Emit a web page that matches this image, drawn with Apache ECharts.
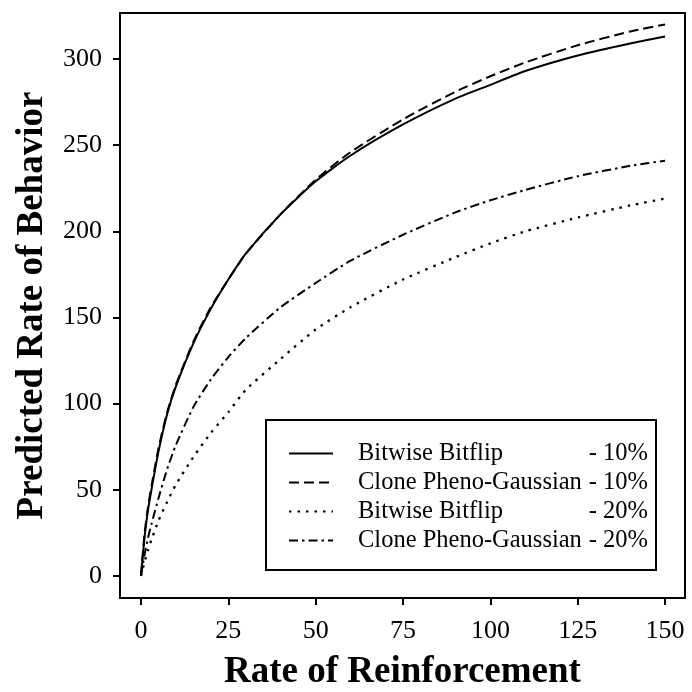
<!DOCTYPE html>
<html>
<head>
<meta charset="utf-8">
<script src="https://cdn.jsdelivr.net/npm/echarts@6/dist/echarts.min.js"></script>
<style>html,body{margin:0;padding:0;background:#fff}#c{width:692px;height:692px}</style>
</head>
<body>
<div id="c"></div>
<script>
var xValues = [0, 1, 2, 3, 5, 7.5, 10, 15, 20, 25, 30, 40, 50, 60, 75, 90, 100, 110, 125, 140, 150];
var bitwise10 = [0, 22, 38, 50, 72, 94, 110, 135, 155, 172, 187, 210, 229, 244, 262, 277, 285, 293, 302, 309, 313];
var clone10 = [0, 24, 40, 52, 74, 95, 111, 136, 156, 172, 187, 210, 230, 246, 265, 281, 290, 298, 308, 316, 320];
var bitwise20 = [0, 8, 15, 21, 32, 43, 53, 69, 83, 95, 108, 126, 143, 156, 172, 185, 193, 200, 208, 215, 219];
var clone20 = [0, 12, 22, 30, 45, 62, 76, 98, 114, 127, 138, 156, 170, 183, 198, 211, 218, 224, 232, 238, 241];
var xTicks = [0, 25, 50, 75, 100, 125, 150];
var yTicks = [0, 50, 100, 150, 200, 250, 300];
var seriesNames = ['Bitwise Bitflip', 'Clone Pheno-Gaussian', 'Bitwise Bitflip', 'Clone Pheno-Gaussian'];
var seriesRates = ['- 10%', '- 10%', '- 20%', '- 20%'];
var seriesIds = ['b10', 'c10', 'b20', 'c20'];

function pairs(ys) { return xValues.map(function (x, i) { return [x, ys[i]]; }); }
var font = 'Liberation Serif';
var dashes = ['solid', [10, 5], [2.5, 6], [9, 4, 2.5, 4]];
var widths = [2, 2, 2.3, 2];
var datas = [bitwise10, clone10, bitwise20, clone20];
var labelMap = {};
seriesIds.forEach(function (id, i) { labelMap[id] = i; });

var chart = echarts.init(document.getElementById('c'), null, {renderer: 'canvas'});
chart.setOption({
  animation: false,
  backgroundColor: '#fff',
  grid: {left: 120, right: 7, top: 13, bottom: 94, show: true, borderColor: '#000', borderWidth: 2, backgroundColor: 'transparent', containLabel: false, outerBoundsMode: 'none'},
  xAxis: {
    type: 'value', min: -6, max: 155.7,
    name: 'Rate of Reinforcement', nameLocation: 'middle', nameGap: 56,
    nameTextStyle: {fontFamily: font, fontWeight: 'bold', fontSize: 37, color: '#000'},
    axisLine: {show: false, onZero: false},
    axisTick: {show: true, length: 7, lineStyle: {color: '#000', width: 2}, customValues: xTicks},
    axisLabel: {fontFamily: font, fontSize: 26, color: '#000', margin: 20, customValues: xTicks},
    splitLine: {show: false}
  },
  yAxis: {
    type: 'value', min: -12.8, max: 326.7,
    name: 'Predicted Rate of Behavior', nameLocation: 'middle', nameGap: 69,
    nameTextStyle: {fontFamily: font, fontWeight: 'bold', fontSize: 37, color: '#000'},
    axisLine: {show: false, onZero: false},
    axisTick: {show: true, length: 7, lineStyle: {color: '#000', width: 2}, customValues: yTicks},
    axisLabel: {fontFamily: font, fontSize: 26, color: '#000', margin: 18, customValues: yTicks},
    splitLine: {show: false}
  },
  legend: {
    orient: 'vertical', left: 266, top: 420,
    padding: [21, 8, 17, 22],
    borderColor: '#000', borderWidth: 2, backgroundColor: '#fff',
    itemWidth: 44, itemHeight: 14, itemGap: 4,
    itemStyle: {color: 'transparent', borderColor: 'transparent', borderWidth: 0, opacity: 0},
    data: seriesIds,
    formatter: function (id) { var i = labelMap[id]; return '{a|' + seriesNames[i] + '}{b|' + seriesRates[i] + '}'; },
    textStyle: {
      fontFamily: font, fontSize: 24, color: '#000', padding: [0, 0, 0, 20],
      rich: {
        a: {fontFamily: font, fontSize: 24.5, color: '#000', width: 228, lineHeight: 28.5},
        b: {fontFamily: font, fontSize: 24.5, color: '#000', width: 62, align: 'right', lineHeight: 28.5}
      }
    }
  },
  series: seriesIds.map(function (id, i) {
    return {
      type: 'line', name: id, data: pairs(datas[i]),
      showSymbol: false, symbol: 'none', smooth: 0.2,
      lineStyle: {color: '#000', width: widths[i], type: dashes[i]},
      itemStyle: {color: '#000'}, z: 2
    };
  })
});
</script>
</body>
</html>
